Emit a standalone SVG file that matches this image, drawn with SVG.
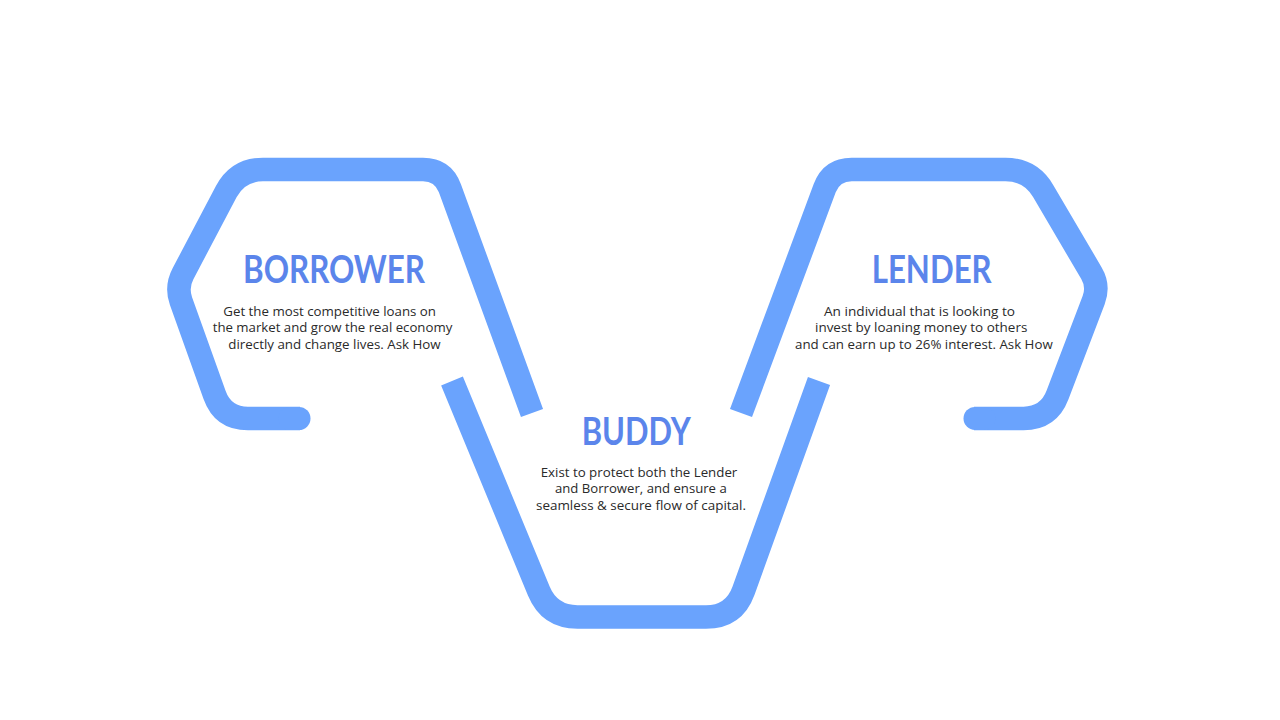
<svg xmlns="http://www.w3.org/2000/svg" width="1280" height="720" viewBox="0 0 1280 720">
  <style>
    .band { fill: none; stroke: #6aa3fd; stroke-width: 23.5; stroke-linejoin: round; stroke-linecap: butt; }
    .cap { fill: none; stroke: #6aa3fd; stroke-width: 23; stroke-linecap: round; }
    .title { font-family: "Lato", "Liberation Sans", sans-serif; font-weight: bold; font-size: 38px; fill: #5b85eb; }
    .body { font-family: "Open Sans", "Liberation Sans", sans-serif; font-weight: 400; font-size: 13.5px; fill: #2a2a2a; }
  </style>
  <rect width="1280" height="720" fill="#ffffff"/>
  <g id="connectors">
    <path class="band" d="M300,418.5 L248,418.5 Q223,418.5 214.6,395 L181,301.1 Q176,287 183,273.7 L226.3,191.6 Q238,169.5 263,169.5 L423,169.5 Q443,169.5 449.9,188.3 L532,413"/>
    <path class="cap" d="M290,418.5 L299,418.5"/>
    <path class="band" d="M452,381 L538.8,591.1 Q549.5,617 577.5,617 L706,617 Q734,617 743.5,590.7 L819,381"/>
    <path class="band" d="M741,413 L824.7,188.2 Q831.7,169.5 851.7,169.5 L1005.5,169.5 Q1030.5,169.5 1043.2,191.1 L1091.4,273.1 Q1099,286 1093.7,300 L1057.5,395 Q1048.6,418.4 1023.6,418.4 L974,418.4"/>
    <path class="cap" d="M984,418.4 L975,418.4"/>
  </g>
  <g id="borrower">
    <text class="title" x="243" y="283" textLength="182" lengthAdjust="spacingAndGlyphs">BORROWER</text>
    <text class="body" x="223.3" y="315.5" textLength="212.7" lengthAdjust="spacingAndGlyphs">Get the most competitive loans on</text>
    <text class="body" x="212.7" y="332.2" textLength="239.6" lengthAdjust="spacingAndGlyphs">the market and grow the real economy</text>
    <text class="body" x="228.3" y="348.8" textLength="212.4" lengthAdjust="spacingAndGlyphs">directly and change lives. Ask How</text>
  </g>
  <g id="lender">
    <text class="title" x="871.7" y="283" textLength="120" lengthAdjust="spacingAndGlyphs">LENDER</text>
    <text class="body" x="824" y="315.5" textLength="191" lengthAdjust="spacingAndGlyphs">An individual that is looking to</text>
    <text class="body" x="815" y="332.2" textLength="212.3" lengthAdjust="spacingAndGlyphs">invest by loaning money to others</text>
    <text class="body" x="795" y="348.8" textLength="257.7" lengthAdjust="spacingAndGlyphs">and can earn up to 26% interest. Ask How</text>
  </g>
  <g id="buddy">
    <text class="title" x="581.7" y="445" textLength="109" lengthAdjust="spacingAndGlyphs">BUDDY</text>
    <text class="body" x="540.7" y="476.5" textLength="196.6" lengthAdjust="spacingAndGlyphs">Exist to protect both the Lender</text>
    <text class="body" x="555" y="493.2" textLength="171.7" lengthAdjust="spacingAndGlyphs">and Borrower, and ensure a</text>
    <text class="body" x="536" y="509.8" textLength="210" lengthAdjust="spacingAndGlyphs">seamless &amp; secure flow of capital.</text>
  </g>
</svg>
